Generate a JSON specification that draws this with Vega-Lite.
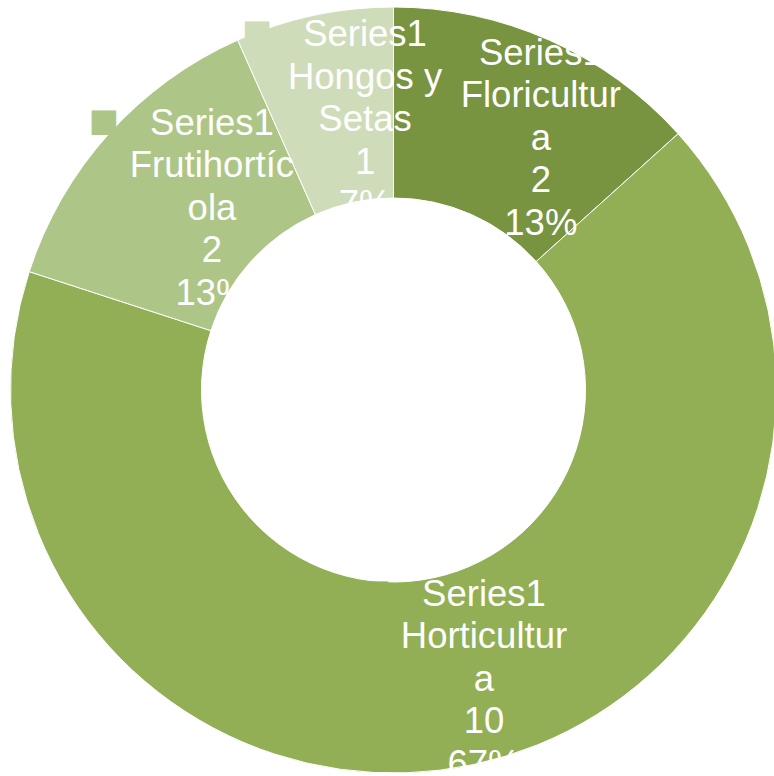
{
  "$schema": "https://vega.github.io/schema/vega-lite/v6.json",
  "width": 761,
  "height": 772,
  "autosize": "none",
  "padding": {"left": 13, "top": 4, "right": 0, "bottom": 0},
  "background": "white",
  "view": {"stroke": null},
  "data": {
    "values": [
      {"categoria": "Floricultura", "valor": 2, "orden": 1, "etiqueta": "Series1\nFloricultur\na\n2\n13%"},
      {"categoria": "Horticultura", "valor": 10, "orden": 2, "etiqueta": "Series1\nHorticultur\na\n10\n67%"},
      {"categoria": "Frutihortícola", "valor": 2, "orden": 3, "etiqueta": "Series1\nFrutihortíc\nola\n2\n13%"},
      {"categoria": "Hongos y Setas", "valor": 1, "orden": 4, "etiqueta": "Series1\nHongos y\nSetas\n1\n7%"}
    ]
  },
  "encoding": {
    "theta": {"field": "valor", "type": "quantitative", "stack": true},
    "order": {"field": "orden", "type": "quantitative"}
  },
  "layer": [
    {
      "mark": {"type": "arc", "outerRadius": 383, "innerRadius": 192, "stroke": "white", "strokeWidth": 1},
      "encoding": {
        "color": {
          "field": "categoria", "type": "nominal",
          "scale": {"domain": ["Floricultura", "Horticultura", "Frutihortícola", "Hongos y Setas"], "range": ["#789441", "#92AF55", "#ADC688", "#CFDCBA"]},
          "legend": null
        }
      }
    },
    {
      "mark": {"type": "text", "radius": 286, "dx": -77, "dy": -78, "font": "DejaVu Sans", "fontSize": 32, "align": "center", "baseline": "middle"},
      "encoding": {
        "text": {"value": "■"},
        "color": {
          "field": "categoria", "type": "nominal",
          "scale": {"domain": ["Floricultura", "Horticultura", "Frutihortícola", "Hongos y Setas"], "range": ["#789441", "#92AF55", "#ADC688", "#CFDCBA"]},
          "legend": null
        }
      }
    },
    {
      "mark": {"type": "text", "radius": 286, "dx": 31, "dy": -75, "font": "Liberation Sans", "fontSize": 36.5, "lineHeight": 42.5, "lineBreak": "\n", "fill": "white", "align": "center", "baseline": "middle"},
      "encoding": {
        "text": {"field": "etiqueta", "type": "nominal"},
        "detail": {"field": "categoria", "type": "nominal"}
      }
    }
  ]
}
